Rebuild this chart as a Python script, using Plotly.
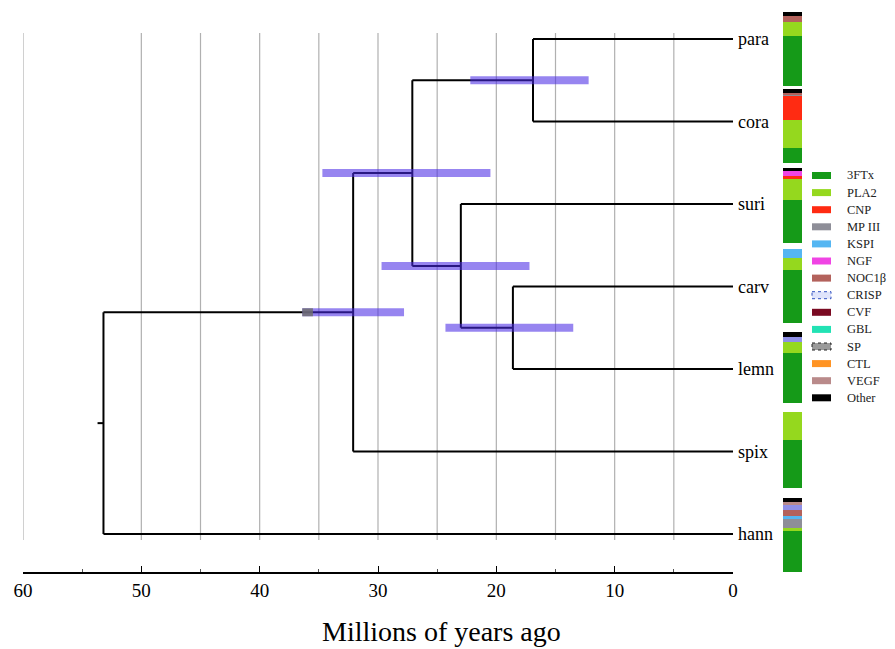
import plotly.graph_objects as go

# ---------------- data ----------------
tips = ["para", "cora", "suri", "carv", "lemn", "spix", "hann"]

# internal nodes (listed so that children come before parents)
node_names = ["A", "C", "B", "D", "E", "F"]
node_children = [["para", "cora"], ["carv", "lemn"], ["suri", "C"],
                 ["A", "B"], ["D", "spix"], ["E", "hann"]]
node_ages = [16.9, 18.6, 23.0, 27.1, 32.1, 53.2]
ci_old = [22.2, 24.3, 29.7, 34.7, 36.4, None]
ci_young = [12.2, 13.5, 17.2, 20.5, 27.8, None]
gray_ci_node = "E"
gray_ci = [36.4, 35.5]
root_stub_age = 53.7

grid_ages = [60, 50, 45, 40, 35, 30, 25, 20, 15, 10, 5]

categories = ["3FTx", "PLA2", "CNP", "MP III", "KSPI", "NGF", "NOC1\u03b2",
              "CRISP", "CVF", "GBL", "SP", "CTL", "VEGF", "Other"]
# percentages per tip: para, cora, suri, carv, lemn, spix, hann
pct_3FTx = [68, 20, 58, 72, 71, 63, 55]
pct_PLA2 = [18, 38, 28, 16, 15, 37, 4]
pct_CNP = [0, 32, 3, 0, 0, 0, 0]
pct_MPIII = [0, 2, 0, 0, 0, 0, 12]
pct_KSPI = [0, 0, 0, 12, 0, 0, 5]
pct_NGF = [0, 0, 7, 0, 0, 0, 0]
pct_NOC1b = [9, 3, 0, 0, 0, 0, 8]
pct_CRISP = [0, 0, 0, 0, 7, 0, 6]
pct_CVF = [0, 0, 0, 0, 0, 0, 0]
pct_GBL = [0, 0, 0, 0, 0, 0, 0]
pct_SP = [0, 0, 0, 0, 0, 0, 0]
pct_CTL = [0, 0, 0, 0, 0, 0, 0]
pct_VEGF = [0, 0, 0, 0, 0, 0, 5]
pct_Other = [5, 5, 4, 0, 7, 0, 5]
pct_all = [pct_3FTx, pct_PLA2, pct_CNP, pct_MPIII, pct_KSPI, pct_NGF, pct_NOC1b,
           pct_CRISP, pct_CVF, pct_GBL, pct_SP, pct_CTL, pct_VEGF, pct_Other]

x_ticks = [60, 50, 40, 30, 20, 10, 0]

# ---------------- layout constants ----------------
W, H = 895, 649
PLOT_BOTTOM = 572          # pixel y of x-axis line
TIP0_PX, TIP_STEP_PX = 39, 82.5
cat_colors = ["#159a18", "#95d81e", "#ff2b12", "#8e8e98", "#55b6f2", "#f044e4",
              "#b3625c", "#8f8fe6", "#7a0a22", "#22e2b4", "#444444", "#ff9424",
              "#b98a8a", "#000000"]
# pixel spans (top, bottom) of composition columns
col_spans = [(12, 86), (89, 163), (168, 243), (249, 323), (332, 403), (412, 488), (498, 572)]

def py(px):  # pixel y -> tree y-data
    return (px - TIP0_PX) / TIP_STEP_PX

def paper_x(px):
    return px / W

def paper_y(px):
    return (PLOT_BOTTOM - px) / PLOT_BOTTOM

# ---------------- tree geometry ----------------
ypos = {t: i for i, t in enumerate(tips)}
age = {t: 0.0 for t in tips}
for n, ch, a in zip(node_names, node_children, node_ages):
    ypos[n] = (ypos[ch[0]] + ypos[ch[1]]) / 2
    age[n] = a

tx, ty = [], []
for n, ch in zip(node_names, node_children):
    tx += [age[n], age[n], None]
    ty += [ypos[ch[0]], ypos[ch[1]], None]
    for c in ch:
        tx += [age[n], age[c], None]
        ty += [ypos[c], ypos[c], None]
root = node_names[-1]
tx += [root_stub_age, age[root], None]
ty += [ypos[root], ypos[root], None]

fig = go.Figure()

# grid lines
gx, gy = [], []
for g in grid_ages:
    gx += [g, g, None]
    gy += [py(33), py(540), None]
fig.add_trace(go.Scatter(x=gx, y=gy, mode="lines", line=dict(color="#b0b0b0", width=1.2),
                         hoverinfo="skip", showlegend=False))

fig.add_trace(go.Scatter(x=tx, y=ty, mode="lines", line=dict(color="black", width=2),
                         hoverinfo="skip", showlegend=False))

# CI bars
cx, cy = [], []
for n, o, yg in zip(node_names, ci_old, ci_young):
    if o is None:
        continue
    cx += [o, yg, None]
    cy += [ypos[n], ypos[n], None]
fig.add_trace(go.Scatter(x=cx, y=cy, mode="lines", line=dict(color="rgba(72,40,228,0.57)", width=8),
                         hoverinfo="skip", showlegend=False))
fig.add_trace(go.Scatter(x=gray_ci, y=[ypos[gray_ci_node]] * 2, mode="lines",
                         line=dict(color="rgba(110,110,110,0.85)", width=8),
                         hoverinfo="skip", showlegend=False))

# composition columns
cum = [0.0] * len(tips)
for cat, vals, col in zip(categories, pct_all, cat_colors):
    xs, bases, hs = [], [], []
    for j, v in enumerate(vals):
        if v <= 0:
            continue
        top, bot = col_spans[j]
        h = v * (bot - top) / 100.0
        cum[j] += h
        xs.append(0)
        bases.append(bot - cum[j])
        hs.append(h)
    if xs:
        fig.add_trace(go.Bar(x=xs, y=hs, base=bases, width=1, xaxis="x2", yaxis="y2",
                             marker=dict(color=col, line=dict(width=0)),
                             showlegend=False, hoverinfo="skip"))

# tip labels
for t in tips:
    fig.add_annotation(x=0, y=ypos[t], xref="x", yref="y", text=t, showarrow=False,
                       xanchor="left", yanchor="middle", xshift=3,
                       font=dict(family="Liberation Serif", size=18, color="black"))

# legend (drawn manually)
LEG_Y0, LEG_STEP = 175.5, 17.1
for i, (cat, col) in enumerate(zip(categories, cat_colors)):
    yc = LEG_Y0 + i * LEG_STEP
    if cat == "CRISP":
        fill, lc, lw, dash = "#dfe4fb", "#3050c0", 1, "dot"
    elif cat == "SP":
        fill, lc, lw, dash = "#9a9a9a", "#222222", 1, "dot"
    else:
        fill, lc, lw, dash = col, col, 0, "solid"
    fig.add_shape(type="rect", xref="paper", yref="paper",
                  x0=paper_x(812), x1=paper_x(831), y0=paper_y(yc - 3.5), y1=paper_y(yc + 3.5),
                  fillcolor=fill, line=dict(color=lc, width=lw, dash=dash))
    fig.add_annotation(x=paper_x(845), y=paper_y(yc), xref="paper", yref="paper", text=cat,
                       showarrow=False, xanchor="left", yanchor="middle",
                       font=dict(family="Liberation Serif", size=12.5, color="#222"))

fig.add_annotation(x=paper_x(441), y=paper_y(631), xref="paper", yref="paper",
                   text="Millions of years ago", showarrow=False, xanchor="center",
                   yanchor="middle", font=dict(family="Liberation Serif", size=28, color="black"))

fig.update_layout(
    width=W, height=H,
    margin=dict(l=0, r=0, t=0, b=H - PLOT_BOTTOM, pad=0, autoexpand=False),
    paper_bgcolor="white", plot_bgcolor="white",
    barmode="overlay", bargap=0,
    font=dict(family="Liberation Serif", color="black"),
    showlegend=False,
    xaxis=dict(domain=[paper_x(23), paper_x(733)], range=[60, 0], showgrid=False, zeroline=False,
               showline=True, linecolor="black", linewidth=1.5, ticks="inside", ticklen=6,
               tickcolor="black", tickvals=x_ticks, ticktext=[str(v) for v in x_ticks],
               tickfont=dict(family="Liberation Serif", size=19, color="black"),
               minor=dict(ticks="inside", ticklen=3, dtick=5, tickcolor="#555"),
               anchor="y", fixedrange=True, automargin=False),
    yaxis=dict(domain=[0, 1], range=[py(PLOT_BOTTOM), py(0)], visible=False, fixedrange=True,
               automargin=False),
    xaxis2=dict(domain=[paper_x(783), paper_x(802)], range=[-0.5, 0.5], visible=False,
                anchor="y2", fixedrange=True),
    yaxis2=dict(domain=[0, 1], range=[PLOT_BOTTOM, 0], visible=False, anchor="x2", fixedrange=True),
)

fig.write_html("out.html")
